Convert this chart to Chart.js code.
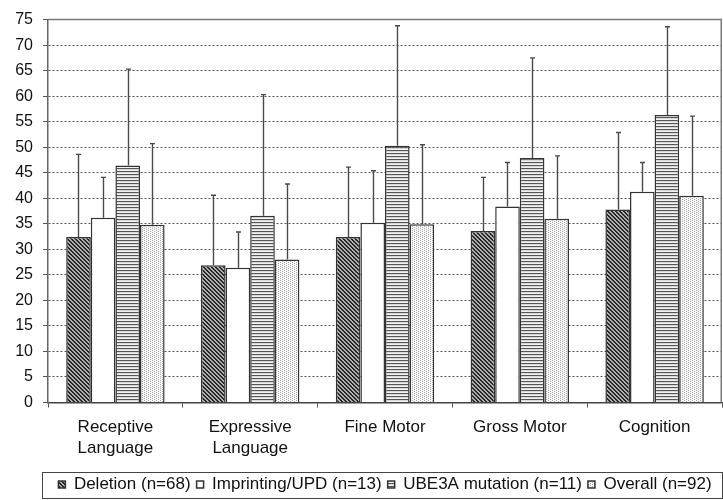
<!DOCTYPE html>
<html>
<head>
<meta charset="utf-8">
<script src="https://cdn.jsdelivr.net/npm/chart.js@4.4.1/dist/chart.umd.min.js"></script>
<style>
  html, body { margin: 0; padding: 0; background: #fff; }
  #c { display: block; }
</style>
</head>
<body>
<canvas id="c" width="723" height="500"></canvas>
<script>
// Developmental domains (x categories)
const domains = [['Receptive', 'Language'], ['Expressive', 'Language'], 'Fine Motor', 'Gross Motor', 'Cognition'];

// Genetic subgroups (legend labels)
const groupNames = ['Deletion (n=68)', 'Imprinting/UPD (n=13)', 'UBE3A mutation (n=11)', 'Overall (n=92)'];

// Mean developmental age equivalents (months) and standard deviations
const deletionMean   = [32.4, 26.9, 32.4, 33.6, 37.8];
const deletionSD     = [16.2, 13.7, 13.7, 10.5, 15.1];
const imprintingMean = [36.2, 26.4, 35.2, 38.4, 41.3];
const imprintingSD   = [7.9, 7.0, 10.2, 8.6, 5.7];
const ube3aMean      = [46.4, 36.6, 50.3, 47.9, 56.3];
const ube3aSD        = [18.9, 23.7, 23.5, 19.6, 17.3];
const overallMean    = [34.8, 28.0, 34.9, 36.0, 40.5];
const overallSD      = [15.9, 14.8, 15.6, 12.3, 15.6];

// Y axis range and tick step
const yMin = 0, yMax = 75, yStep = 5;

// ---- fill patterns for the bars ----
function tile(w, h, paint) {
  const cv = document.createElement('canvas');
  cv.width = w; cv.height = h;
  const g = cv.getContext('2d');
  paint(g, w, h);
  return document.getElementById('c').getContext('2d').createPattern(cv, 'repeat');
}
// dark back-slash hatching
const hatchDiag = tile(4, 4, (g, w, h) => {
  for (let y = 0; y < h; y++) for (let x = 0; x < w; x++) {
    const d = (x - y + 4) % 4;
    g.fillStyle = d < 2 ? '#262626' : '#b0b0b0';
    g.fillRect(x, y, 1, 1);
  }
});
// horizontal stripes
const hatchHoriz = tile(1, 3, (g) => {
  g.fillStyle = '#555'; g.fillRect(0, 0, 1, 1);
  g.fillStyle = '#d8d8d8'; g.fillRect(0, 1, 1, 1);
  g.fillStyle = '#f2f2f2'; g.fillRect(0, 2, 1, 1);
});
// fine dots
const hatchDots = tile(4, 2, (g) => {
  g.fillStyle = '#f8f8f8'; g.fillRect(0, 0, 4, 2);
  g.fillStyle = '#a8a8a8';
  g.fillRect(0, 0, 1, 1);
  g.fillRect(2, 1, 1, 1);
});

const FONT = '"Liberation Sans", Arial, Helvetica, sans-serif';
const PLOT_BOTTOM = 402.5;   // pixel row of the zero line
const LEGEND_H = 33;         // 17px item + 6px padding + 10

function series(label, data, sd, fill) {
  return {
    label, data, sd,
    backgroundColor: fill,
    borderColor: '#333',
    borderWidth: 1.5,
    borderSkipped: 'bottom',
    categoryPercentage: 0.73,
    barPercentage: 1.0
  };
}

// upward standard-deviation whiskers
const errorBars = {
  id: 'errorBars',
  afterDatasetsDraw(chart) {
    const ctx = chart.ctx;
    const ys = chart.scales.y;
    chart.data.datasets.forEach((ds, di) => {
      const meta = chart.getDatasetMeta(di);
      meta.data.forEach((bar, i) => {
        const top = ys.getPixelForValue(ds.data[i] + ds.sd[i]);
        const x = Math.round(bar.x) + 0.5;
        ctx.save();
        ctx.strokeStyle = '#4a4a4a';
        ctx.lineWidth = 1.4;
        ctx.beginPath();
        ctx.moveTo(x, bar.y);
        ctx.lineTo(x, top);
        ctx.moveTo(x - 2.5, top);
        ctx.lineTo(x + 2.5, top);
        ctx.stroke();
        ctx.restore();
      });
    });
  }
};

// plot frame (top/right) and legend box outline
const frames = {
  id: 'frames',
  beforeDatasetsDraw(chart) {
    const {ctx, chartArea: a} = chart;
    ctx.save();
    ctx.strokeStyle = '#7a7a7a';
    ctx.lineWidth = 1.5;
    ctx.beginPath();
    ctx.moveTo(a.left, a.top);
    ctx.lineTo(a.right - 0.75, a.top);
    ctx.lineTo(a.right - 0.75, a.bottom);
    ctx.stroke();
    ctx.restore();
  },
  afterDraw(chart) {
    const lg = chart.legend;
    if (!lg || !lg.legendHitBoxes || !lg.legendHitBoxes.length) return;
    const hb = lg.legendHitBoxes[0];
    const mid = hb.top + hb.height / 2;
    const ctx = chart.ctx;
    const left = chart.chartArea.left - 6;
    ctx.save();
    ctx.strokeStyle = '#444';
    ctx.lineWidth = 1;
    ctx.strokeRect(left + 0.5, Math.round(mid - 13) + 0.5, chart.width - 1 - left, 26);
    ctx.restore();
  }
};

new Chart(document.getElementById('c'), {
  type: 'bar',
  data: {
    labels: domains,
    datasets: [
      series(groupNames[0], deletionMean, deletionSD, hatchDiag),
      series(groupNames[1], imprintingMean, imprintingSD, '#ffffff'),
      series(groupNames[2], ube3aMean, ube3aSD, hatchHoriz),
      series(groupNames[3], overallMean, overallSD, hatchDots)
    ]
  },
  options: {
    responsive: false,
    animation: false,
    devicePixelRatio: 1,
    layout: { padding: { top: 17, right: 1, left: 0, bottom: -3 } },
    plugins: {
      tooltip: { enabled: false },
      legend: {
        position: 'bottom',
        align: 'center',
        fullSize: false,
        labels: {
          boxWidth: 7,
          boxHeight: 7,
          padding: 6,
          color: '#111',
          font: { family: FONT, size: 17 }
        }
      }
    },
    scales: {
      x: {
        grid: {
          display: true,
          drawOnChartArea: false,
          drawTicks: true,
          tickLength: 5,
          tickColor: '#555',
          offset: true
        },
        border: { display: true, color: '#444', width: 1.5 },
        ticks: {
          color: '#111',
          padding: 10,
          maxRotation: 0,
          autoSkip: false,
          font: { family: FONT, size: 17 }
        },
        afterFit(scale) {
          scale.height = scale.chart.height - PLOT_BOTTOM - LEGEND_H + 3;
        }
      },
      y: {
        min: yMin,
        max: yMax,
        ticks: {
          stepSize: yStep,
          color: '#111',
          padding: 10,
          font: { family: FONT, size: 16 }
        },
        grid: {
          color: '#555',
          lineWidth: 1,
          drawTicks: true,
          tickLength: 5,
          tickColor: '#555',
          tickBorderDash: []
        },
        border: { display: true, color: '#666', width: 1.5, dash: [2, 2] },
        afterFit(scale) { scale.width = 48; }
      }
    }
  },
  plugins: [frames, errorBars]
});
</script>
</body>
</html>
